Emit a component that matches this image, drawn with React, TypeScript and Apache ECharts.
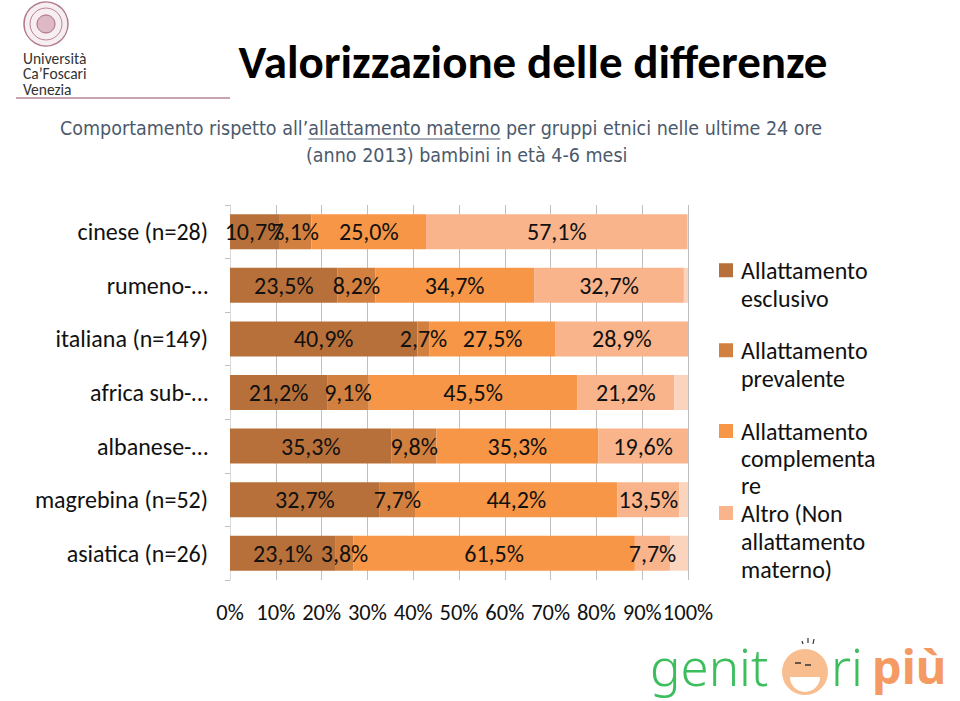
import React, { useEffect, useRef } from "react";
import * as echarts from "echarts";

const categories = [
  "cinese (n=28)",
  "rumeno-…",
  "italiana (n=149)",
  "africa sub-…",
  "albanese-…",
  "magrebina (n=52)",
  "asiatica (n=26)",
];
const seriesNames = [
  "Allattamento esclusivo",
  "Allattamento prevalente",
  "Allattamento complementare",
  "Altro (Non allattamento materno)",
  "Non risponde",
];
const esclusivo = [10.7, 23.5, 40.9, 21.2, 35.3, 32.7, 23.1];
const prevalente = [7.1, 8.2, 2.7, 9.1, 9.8, 7.7, 3.8];
const complementare = [25.0, 34.7, 27.5, 45.5, 35.3, 44.2, 61.5];
const altro = [57.1, 32.7, 28.9, 21.2, 19.6, 13.5, 7.7];
const nonRisponde = [0.1, 0.9, 0.0, 3.0, 0.0, 1.9, 3.9];
const xTicks = [0, 10, 20, 30, 40, 50, 60, 70, 80, 90, 100];

const legendLabels = [
  "Allattamento\nesclusivo",
  "Allattamento\nprevalente",
  "Allattamento\ncomplementa\nre",
  "Altro (Non\nallattamento\nmaterno)",
];

const titleText = "Valorizzazione delle differenze";
const subA = "Comportamento rispetto all’";
const subB = "allattamento materno";
const subC = " per gruppi etnici nelle ultime 24 ore";
const sub2 = "(anno 2013) bambini in età 4-6 mesi";
const logoText = "Università\nCa’Foscari\nVenezia";

const colors = ["#B8703A", "#D2803F", "#F79646", "#F9B48C", "#FBD4BE"];
const FONT = "Carlito, Lato, 'Noto Sans', sans-serif";
const SUBFONT = "'DejaVu Sans Condensed', 'DejaVu Sans', sans-serif";

function measure(text: string, font: string): number {
  const c = document.createElement("canvas");
  const ctx = c.getContext("2d");
  if (!ctx) return text.length * 9;
  ctx.font = font;
  return ctx.measureText(text).width;
}

export default function App() {
  const ref = useRef<HTMLDivElement>(null);
  useEffect(() => {
    if (!ref.current) return;
    const chart = echarts.init(ref.current, undefined, { renderer: "svg" });
    const fmt = (v: number) => v.toFixed(1).replace(".", ",") + "%";
    const data = [esclusivo, prevalente, complementare, altro, nonRisponde];

    const series: any[] = data.map((arr, i) => ({
      name: seriesNames[i],
      type: "bar",
      stack: "total",
      barWidth: 35,
      data: arr,
      itemStyle: { color: colors[i] },
      label: {
        show: i < 4,
        position: "inside",
        color: "#111",
        fontSize: 24,
        fontFamily: FONT,
        formatter: (p: any) => (p.value > 0 ? fmt(p.value) : ""),
      },
    }));

    const subSize = 19.5;
    const subFontStr = `${subSize}px ${SUBFONT}`;
    const wA = measure(subA, subFontStr);
    const wB = measure(subB, subFontStr);
    const sx = 60;
    const subY = 128;
    const subColor = "#4B5A6C";

    // top of each legend text block and its line height
    const legendTop = [256, 336, 417.5, 499];
    const legendLH = [28.5, 28.5, 27, 28];
    const legendGraphics: any[] = [];
    legendLabels.forEach((t, i) => {
      const firstCenter = legendTop[i] + legendLH[i] / 2;
      legendGraphics.push({
        type: "rect",
        shape: { x: 719, y: firstCenter - 7, width: 14, height: 14 },
        style: { fill: colors[i] },
      });
      legendGraphics.push({
        type: "text",
        x: 741,
        y: legendTop[i],
        style: {
          text: t,
          font: `24px ${FONT}`,
          fill: "#111",
          lineHeight: legendLH[i],
          verticalAlign: "top",
          align: "left",
        },
      });
    });

    const graphic: any[] = [
      // top-left university logo
      { type: "circle", shape: { cx: 46, cy: 24, r: 22 }, style: { fill: "#F7EEF1", stroke: "#B07A8C", lineWidth: 1.5 } },
      { type: "circle", shape: { cx: 46, cy: 24, r: 16 }, style: { fill: "none", stroke: "#B98595", lineWidth: 1 } },
      { type: "circle", shape: { cx: 46, cy: 24, r: 9 }, style: { fill: "#DDB8C5", stroke: "#A8677D", lineWidth: 1 } },
      { type: "text", x: 23, y: 50.5, style: { text: logoText, font: `15.5px ${FONT}`, fill: "#333", lineHeight: 15.5, verticalAlign: "top" } },
      { type: "line", shape: { x1: 16, y1: 98, x2: 230, y2: 98 }, style: { stroke: "#C9A3B1", lineWidth: 2 } },
      // title
      { type: "text", x: 533, y: 62, style: { text: titleText, font: `bold 47px ${FONT}`, fill: "#000", align: "center", verticalAlign: "middle" } },
      // subtitle
      { type: "text", x: sx, y: subY, style: { text: subA, font: subFontStr, fill: subColor, verticalAlign: "middle" } },
      { type: "text", x: sx + wA, y: subY, style: { text: subB, font: subFontStr, fill: subColor, verticalAlign: "middle" } },
      { type: "text", x: sx + wA + wB, y: subY, style: { text: subC, font: subFontStr, fill: subColor, verticalAlign: "middle" } },
      { type: "line", shape: { x1: sx + wA, y1: subY + 11, x2: sx + wA + wB, y2: subY + 11 }, style: { stroke: subColor, lineWidth: 1 } },
      { type: "text", x: 306, y: 155, style: { text: sub2, font: subFontStr, fill: subColor, verticalAlign: "middle" } },
      ...legendGraphics,
      // bottom-right logo
      { type: "text", x: 650, y: 666, style: { text: "genit", font: `300 51px 'Noto Sans', sans-serif`, lineHeight: 46, fill: "#3DBE5C", verticalAlign: "middle" } },
      { type: "circle", shape: { cx: 805, cy: 672, r: 23 }, style: { fill: "#F9BE90" } },
      { type: "sector", shape: { cx: 805, cy: 677, r0: 0, r: 15, startAngle: 0, endAngle: Math.PI }, style: { fill: "#FFFFFF" } },
      { type: "line", shape: { x1: 795, y1: 663, x2: 801, y2: 663 }, style: { stroke: "#333", lineWidth: 1.5 } },
      { type: "line", shape: { x1: 805, y1: 665, x2: 811, y2: 665 }, style: { stroke: "#333", lineWidth: 1.5 } },
      { type: "line", shape: { x1: 802, y1: 641, x2: 803, y2: 644 }, style: { stroke: "#333", lineWidth: 1.2 } },
      { type: "line", shape: { x1: 808, y1: 638, x2: 808, y2: 643 }, style: { stroke: "#333", lineWidth: 1.2 } },
      { type: "line", shape: { x1: 814, y1: 639, x2: 813, y2: 644 }, style: { stroke: "#333", lineWidth: 1.2 } },
      { type: "text", x: 831, y: 666, style: { text: "ri", font: `300 51px 'Noto Sans', sans-serif`, lineHeight: 46, fill: "#3DBE5C", verticalAlign: "middle" } },
      { type: "text", x: 872, y: 666, style: { text: "più", font: `bold 47px 'Noto Sans', sans-serif`, lineHeight: 44, fill: "#F59A62", verticalAlign: "middle" } },
    ];

    chart.setOption({
      animation: false,
      backgroundColor: "#FFFFFF",
      grid: { left: 230, top: 205, width: 458, height: 375, containLabel: false },
      xAxis: {
        type: "value",
        min: 0,
        max: 100,
        interval: 10,
        axisLine: { show: false },
        axisTick: { show: false },
        splitLine: { show: true, lineStyle: { color: "#BFBFBF", width: 1 } },
        axisLabel: {
          margin: 21,
          fontSize: 22.5,
          fontFamily: FONT,
          color: "#111",
          formatter: (v: number) => (xTicks.includes(v) ? v + "%" : ""),
        },
      },
      yAxis: {
        type: "category",
        inverse: true,
        data: categories,
        axisLine: { show: true, lineStyle: { color: "#D9D9D9" } },
        axisTick: { show: true, length: 5, lineStyle: { color: "#BFBFBF" } },
        axisLabel: { margin: 22, fontSize: 24, fontFamily: FONT, color: "#111" },
      },
      series,
      graphic,
    });
    return () => chart.dispose();
  }, []);
  return (
    <div
      ref={ref}
      style={{ position: "fixed", left: 0, top: 0, width: 960, height: 701, background: "#fff" }}
    />
  );
}
